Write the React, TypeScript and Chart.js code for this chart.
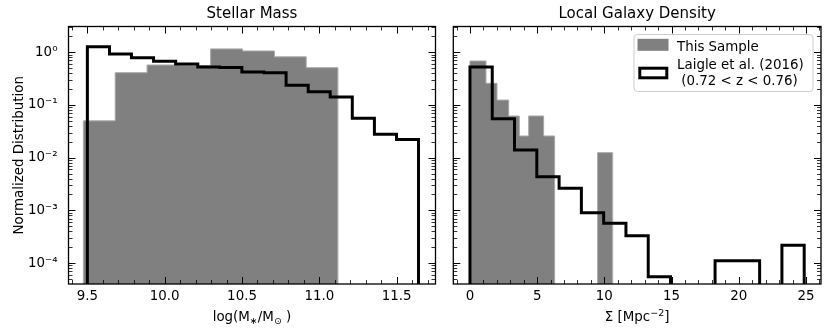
import React, { useEffect, useRef } from 'react';
import { Chart, registerables } from 'chart.js';

Chart.register(...registerables);

const FONT = "'DejaVu Sans', 'Liberation Sans', sans-serif";

// ---------- Stellar Mass panel ----------
const massSampleEdges = [9.474, 9.68, 9.886, 10.091, 10.297, 10.503, 10.709, 10.915, 11.12];
const massSampleValues = [0.05, 0.41, 0.574, 0.56, 1.16, 1.06, 0.82, 0.51];
const massLaigleEdges = [9.5, 9.643, 9.785, 9.928, 10.071, 10.214, 10.356, 10.499, 10.642, 10.785, 10.928, 11.07, 11.213, 11.356, 11.499, 11.641];
const massLaigleValues = [1.28, 0.93, 0.79, 0.675, 0.6, 0.526, 0.515, 0.423, 0.41, 0.236, 0.179, 0.142, 0.056, 0.0277, 0.0222];
const massTicks = [9.5, 10.0, 10.5, 11.0, 11.5];

// ---------- Local Galaxy Density panel ----------
const densSampleEdges = [0, 1.19, 2.01, 2.88, 3.67, 4.37, 5.48, 6.3, 9.5, 10.62];
const densSampleValues = [0.684, 0.258, 0.124, 0.0618, 0.0258, 0.0618, 0.0258, 0, 0.01245];
const densLaigleEdges = [0, 1.658, 3.316, 4.974, 6.632, 8.29, 9.948, 11.606, 13.264, 14.922, 16.58, 18.238, 19.896, 21.554, 23.212, 24.87];
const densLaigleValues = [0.526, 0.055, 0.014, 0.00436, 0.00263, 0.0009, 0.000567, 0.00033, 0.000055, 0, 0, 0.00011, 0.00011, 0, 0.000217];
const densTicks = [0, 5, 10, 15, 20, 25];

const yDecades = [1e-4, 1e-3, 1e-2, 1e-1, 1];
const Y_MIN = 4.0e-5;
const Y_MAX = 3.09;
const FLOOR = 1e-9;

const legendLabels = ['This Sample', 'Laigle et al. (2016)', ' (0.72 < z < 0.76)'];

const SUP: Record<string, string> = {
  '-': '\u207B', '0': '\u2070', '1': '\u00B9', '2': '\u00B2', '3': '\u00B3', '4': '\u2074',
  '5': '\u2075', '6': '\u2076', '7': '\u2077', '8': '\u2078', '9': '\u2079',
};
const toSup = (s: string) => s.split('').map((c) => SUP[c] ?? c).join('');

function stepPoints(edges: number[], values: number[]) {
  const pts: { x: number; y: number }[] = [{ x: edges[0], y: FLOOR }];
  values.forEach((v, i) => pts.push({ x: edges[i], y: v > 0 ? v : FLOOR }));
  pts.push({ x: edges[edges.length - 1], y: FLOOR });
  return pts;
}

type Part = [string, number, number]; // text, font size, baseline shift

function drawRich(ctx: CanvasRenderingContext2D, parts: Part[], cx: number, baseline: number) {
  ctx.textBaseline = 'alphabetic';
  ctx.textAlign = 'left';
  let total = 0;
  const widths = parts.map(([t, s]) => {
    ctx.font = `${s}px ${FONT}`;
    const w = ctx.measureText(t).width;
    total += w;
    return w;
  });
  let x = cx - total / 2;
  parts.forEach(([t, s, dy], i) => {
    ctx.font = `${s}px ${FONT}`;
    ctx.fillText(t, x, baseline + dy);
    x += widths[i];
  });
}

type PanelCfg = {
  title: string;
  xMin: number;
  xMax: number;
  xMajor: number[];
  xMinorStep: number;
  xDecimals: number;
  xLabel: Part[];
  yTitle: string | null;
  legend: boolean;
  yWidth: number;
  padRight: number;
  sampleEdges: number[];
  sampleValues: number[];
  laigleEdges: number[];
  laigleValues: number[];
};

function makePlugin(cfg: PanelCfg) {
  return {
    id: 'panelDecor',
    afterDraw(chart: any) {
      const ctx: CanvasRenderingContext2D = chart.ctx;
      const { left, right, top, bottom } = chart.chartArea;
      const xs = chart.scales.x;
      const ys = chart.scales.y;
      ctx.save();
      ctx.strokeStyle = '#000';
      ctx.fillStyle = '#000';
      const MAJ = 7;
      const MIN = 4;
      const snap = (v: number) => Math.round(v) + 0.5;

      const xTick = (val: number, len: number, w: number) => {
        const px = snap(xs.getPixelForValue(val));
        ctx.lineWidth = w;
        ctx.beginPath();
        ctx.moveTo(px, bottom);
        ctx.lineTo(px, bottom - len);
        ctx.moveTo(px, top);
        ctx.lineTo(px, top + len);
        ctx.stroke();
      };
      const yTick = (val: number, len: number, w: number) => {
        const py = snap(ys.getPixelForValue(val));
        ctx.lineWidth = w;
        ctx.beginPath();
        ctx.moveTo(left, py);
        ctx.lineTo(left + len, py);
        ctx.moveTo(right, py);
        ctx.lineTo(right - len, py);
        ctx.stroke();
      };

      // x minor ticks
      const kStart = Math.ceil(cfg.xMin / cfg.xMinorStep - 1e-9);
      const kEnd = Math.floor(cfg.xMax / cfg.xMinorStep + 1e-9);
      for (let k = kStart; k <= kEnd; k++) {
        const v = k * cfg.xMinorStep;
        if (cfg.xMajor.some((m) => Math.abs(m - v) < 1e-6)) continue;
        xTick(v, MIN, 0.8);
      }
      cfg.xMajor.forEach((v) => xTick(v, MAJ, 1));

      // y minor ticks (log)
      for (let e = -6; e <= 1; e++) {
        for (let m = 2; m <= 9; m++) {
          const v = m * Math.pow(10, e);
          if (v > Y_MIN && v < Y_MAX) yTick(v, MIN, 0.8);
        }
      }
      yDecades.forEach((v) => yTick(v, MAJ, 1));

      // frame
      ctx.lineWidth = 1.3;
      ctx.strokeRect(left, top, right - left, bottom - top);

      // title
      ctx.font = `15px ${FONT}`;
      ctx.textAlign = 'center';
      ctx.textBaseline = 'alphabetic';
      ctx.fillText(cfg.title, (left + right) / 2, 17.5);

      // x axis label
      drawRich(ctx, cfg.xLabel, (left + right) / 2, 321);

      // y axis label
      if (cfg.yTitle) {
        ctx.save();
        ctx.translate(23, (top + bottom) / 2);
        ctx.rotate(-Math.PI / 2);
        ctx.font = `13.4px ${FONT}`;
        ctx.textAlign = 'center';
        ctx.textBaseline = 'alphabetic';
        ctx.fillText(cfg.yTitle, 0, 0);
        ctx.restore();
      }

      // legend
      if (cfg.legend) {
        const bx = 194, by = 34.5, bw = 179, bh = 57, r = 3.5;
        ctx.beginPath();
        ctx.moveTo(bx + r, by);
        ctx.lineTo(bx + bw - r, by);
        ctx.arcTo(bx + bw, by, bx + bw, by + r, r);
        ctx.lineTo(bx + bw, by + bh - r);
        ctx.arcTo(bx + bw, by + bh, bx + bw - r, by + bh, r);
        ctx.lineTo(bx + r, by + bh);
        ctx.arcTo(bx, by + bh, bx, by + bh - r, r);
        ctx.lineTo(bx, by + r);
        ctx.arcTo(bx, by, bx + r, by, r);
        ctx.closePath();
        ctx.fillStyle = 'rgba(255,255,255,0.8)';
        ctx.fill();
        ctx.strokeStyle = '#cccccc';
        ctx.lineWidth = 1;
        ctx.stroke();

        ctx.fillStyle = '#808080';
        ctx.fillRect(197.5, 38.8, 31, 12);
        ctx.strokeStyle = '#000';
        ctx.lineWidth = 3;
        ctx.fillStyle = '#fff';
        ctx.fillRect(199.8, 68.2, 27, 9.6);
        ctx.strokeRect(199.8, 68.2, 27, 9.6);

        ctx.fillStyle = '#000';
        ctx.font = `13.4px ${FONT}`;
        ctx.textAlign = 'left';
        ctx.textBaseline = 'alphabetic';
        ctx.fillText(legendLabels[0], 237, 50.5);
        ctx.fillText(legendLabels[1], 237, 69.2);
        ctx.fillText(legendLabels[2], 237, 84.6);
      }
      ctx.restore();
    },
  };
}

function makeConfig(cfg: PanelCfg): any {
  return {
    type: 'line',
    data: {
      datasets: [
        {
          label: 'Laigle et al. (2016)',
          data: stepPoints(cfg.laigleEdges, cfg.laigleValues),
          stepped: 'before',
          borderColor: '#000',
          borderWidth: 3,
          borderJoinStyle: 'miter',
          borderCapStyle: 'butt',
          fill: false,
          pointRadius: 0,
          pointHitRadius: 0,
          clip: 0,
          order: 0,
        },
        {
          label: 'This Sample',
          data: stepPoints(cfg.sampleEdges, cfg.sampleValues),
          stepped: 'before',
          borderColor: '#a8a8a8',
          borderWidth: 1,
          backgroundColor: '#808080',
          fill: 'start',
          pointRadius: 0,
          pointHitRadius: 0,
          clip: 0,
          order: 1,
        },
      ],
    },
    options: {
      animation: false,
      responsive: false,
      devicePixelRatio: 1,
      events: [],
      layout: { padding: { left: 0, right: cfg.padRight, top: 26.5, bottom: 0 } },
      plugins: {
        legend: { display: false },
        tooltip: { enabled: false },
        title: { display: false },
      },
      scales: {
        x: {
          type: 'linear',
          min: cfg.xMin,
          max: cfg.xMax,
          grid: { display: false, drawTicks: false },
          border: { display: false },
          ticks: {
            font: { family: FONT, size: 13.4 },
            color: '#000',
            padding: 4.7,
            maxRotation: 0,
            autoSkip: false,
            callback: (v: number) => Number(v).toFixed(cfg.xDecimals),
          },
          afterBuildTicks: (scale: any) => {
            scale.ticks = cfg.xMajor.map((v) => ({ value: v }));
          },
          afterFit: (scale: any) => {
            scale.height = 45;
          },
        },
        y: {
          type: 'logarithmic',
          min: Y_MIN,
          max: Y_MAX,
          grid: { display: false, drawTicks: false },
          border: { display: false },
          ticks: {
            display: cfg.yTitle !== null,
            font: { family: FONT, size: 13.4 },
            color: '#000',
            padding: 11,
            autoSkip: false,
            callback: (v: number) => '10' + toSup(String(Math.round(Math.log10(Number(v))))),
          },
          afterBuildTicks: (scale: any) => {
            scale.ticks = yDecades.map((v) => ({ value: v }));
          },
          afterFit: (scale: any) => {
            scale.width = cfg.yWidth;
          },
        },
      },
    },
    plugins: [makePlugin(cfg)],
  };
}

const leftCfg: PanelCfg = {
  title: 'Stellar Mass',
  xMin: 9.378,
  xMax: 11.751,
  xMajor: massTicks,
  xMinorStep: 0.1,
  xDecimals: 1,
  xLabel: [
    ['log(M', 13.4, 0],
    ['\u2217', 9.5, 2.5],
    ['/M', 13.4, 0],
    ['\u2299', 9.5, 2.5],
    [' )', 13.4, 0],
  ],
  yTitle: 'Normalized Distribution',
  legend: false,
  yWidth: 68.5,
  padRight: 4.5,
  sampleEdges: massSampleEdges,
  sampleValues: massSampleValues,
  laigleEdges: massLaigleEdges,
  laigleValues: massLaigleValues,
};

const rightCfg: PanelCfg = {
  title: 'Local Galaxy Density',
  xMin: -1.24,
  xMax: 26.12,
  xMajor: densTicks,
  xMinorStep: 1,
  xDecimals: 0,
  xLabel: [
    ['\u03A3 [Mpc', 13.4, 0],
    ['\u22122', 9.5, -5],
    [']', 13.4, 0],
  ],
  yTitle: null,
  legend: true,
  yWidth: 13.3,
  padRight: 10,
  sampleEdges: densSampleEdges,
  sampleValues: densSampleValues,
  laigleEdges: densLaigleEdges,
  laigleValues: densLaigleValues,
};

export default function App() {
  const leftRef = useRef<HTMLCanvasElement>(null);
  const rightRef = useRef<HTMLCanvasElement>(null);

  useEffect(() => {
    const c1 = new Chart(leftRef.current as HTMLCanvasElement, makeConfig(leftCfg));
    const c2 = new Chart(rightRef.current as HTMLCanvasElement, makeConfig(rightCfg));
    return () => {
      c1.destroy();
      c2.destroy();
    };
  }, []);

  return (
    <div style={{ position: 'fixed', left: 0, top: 0, width: 831, height: 329, background: '#fff' }}>
      <canvas
        ref={leftRef}
        width={440}
        height={329}
        style={{ position: 'absolute', left: 0, top: 0, width: 440, height: 329 }}
      />
      <canvas
        ref={rightRef}
        width={391}
        height={329}
        style={{ position: 'absolute', left: 440, top: 0, width: 391, height: 329 }}
      />
    </div>
  );
}
